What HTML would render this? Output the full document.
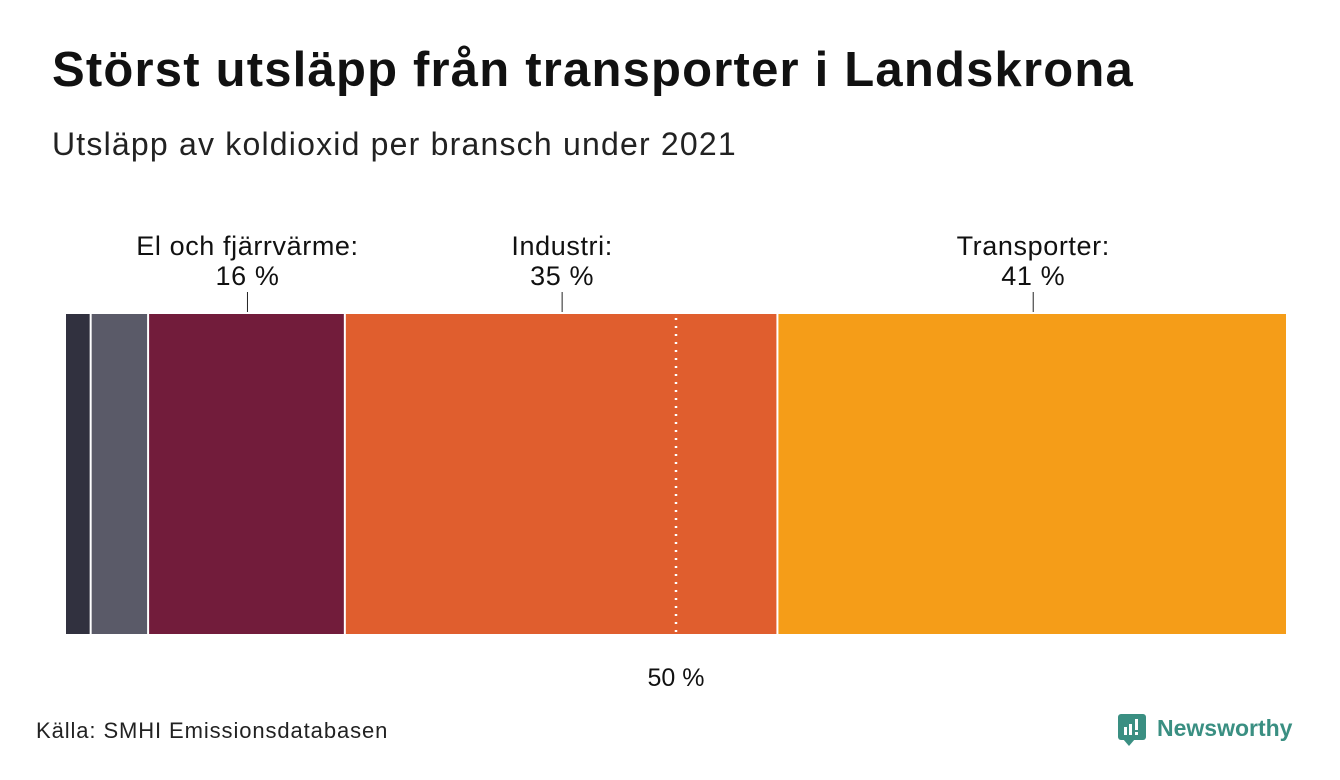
<!DOCTYPE html>
<html><head><meta charset="utf-8">
<style>
body{margin:0;width:1340px;height:780px;background:#fff;font-family:"Liberation Sans",sans-serif;overflow:hidden;position:relative}
.t{position:absolute;left:52px;top:42px;font-size:49px;font-weight:bold;color:#111;margin:0;letter-spacing:1.2px;white-space:nowrap}
.s{position:absolute;left:52px;top:126px;font-size:32px;color:#222;letter-spacing:1.2px;white-space:nowrap}
.src{position:absolute;left:36px;top:718px;font-size:22px;color:#222;letter-spacing:0.9px;white-space:nowrap}
</style></head><body>
<h1 class="t">Störst utsläpp från transporter i Landskrona</h1>
<div class="s">Utsläpp av koldioxid per bransch under 2021</div>
<svg id="chart" width="1340" height="780" style="position:absolute;left:0;top:0"></svg>
<div class="src">Källa: SMHI Emissionsdatabasen</div>
<div style="position:absolute;left:1118px;top:714px;width:28px;height:26px;background:#3a8f82;border-radius:3px">
<div style="position:absolute;left:5px;bottom:-6px;width:0;height:0;border-left:6px solid transparent;border-right:6px solid transparent;border-top:7px solid #3a8f82"></div>
<div style="position:absolute;left:6px;top:13px;width:3px;height:8px;background:#fff"></div>
<div style="position:absolute;left:11px;top:10px;width:3px;height:11px;background:#fff"></div>
<div style="position:absolute;left:17px;top:5px;width:3px;height:11px;background:#fff"></div>
<div style="position:absolute;left:17px;top:18px;width:3px;height:3px;background:#fff"></div>
</div>
<div style="position:absolute;left:1157px;top:715px;font-size:23px;font-weight:bold;color:#3a8f82">Newsworthy</div>
<script>
const categories=["Övrigt","Jordbruk","El och fjärrvärme","Industri","Transporter"];
const values=[2.1,4.7,16.1,35.4,41.7];
const labels=["","","16 %","35 %","41 %"];
const colors=["#31313f","#5a5a68","#721c3b","#e05e2e","#f59d18"];
const svg=document.getElementById('chart');
const NS="http://www.w3.org/2000/svg";
const x0=65,x1=1287,yTop=314,yBot=634;
const total=values.reduce((a,b)=>a+b,0);
const xs=v=>x0+(x1-x0)*v/total;
let cum=0;
values.forEach((v,i)=>{
  const a=xs(cum),b=xs(cum+v);cum+=v;
  const r=document.createElementNS(NS,'rect');
  r.setAttribute('x',a+1);r.setAttribute('y',yTop);r.setAttribute('width',Math.max(0,b-a-2));r.setAttribute('height',yBot-yTop);r.setAttribute('fill',colors[i]);
  
  
  svg.appendChild(r);
  if(labels[i]){
    const m=(a+b)/2+1;
    const l=document.createElementNS(NS,'line');
    l.setAttribute('x1',m);l.setAttribute('x2',m);l.setAttribute('y1',292);l.setAttribute('y2',312);l.setAttribute('stroke','#222');
    
    
    svg.appendChild(l);
    [[categories[i]+':',255],[labels[i],285]].forEach(([t,y])=>{
      const tx=document.createElementNS(NS,'text');
      tx.setAttribute('x',m);tx.setAttribute('y',y);tx.setAttribute('text-anchor','middle');tx.setAttribute('font-size','27');tx.setAttribute('fill','#111');
      tx.setAttribute('letter-spacing','0.6');
      tx.setAttribute('font-family','Liberation Sans, sans-serif');
      tx.textContent=t;
      
      
      svg.appendChild(tx);
    });
  }
});
const mx=xs(total/2);
const dl=document.createElementNS(NS,'line');
dl.setAttribute('x1',mx);dl.setAttribute('x2',mx);dl.setAttribute('y1',318);dl.setAttribute('y2',632);dl.setAttribute('stroke','#fff');dl.setAttribute('stroke-width','2.5');dl.setAttribute('stroke-dasharray','2 6');


svg.appendChild(dl);
const mt=document.createElementNS(NS,'text');
mt.setAttribute('x',mx);mt.setAttribute('y',686);mt.setAttribute('text-anchor','middle');mt.setAttribute('font-size','25');mt.setAttribute('fill','#111');mt.setAttribute('font-family','Liberation Sans, sans-serif');
mt.textContent='50 %';


svg.appendChild(mt);
</script>
</body></html>
